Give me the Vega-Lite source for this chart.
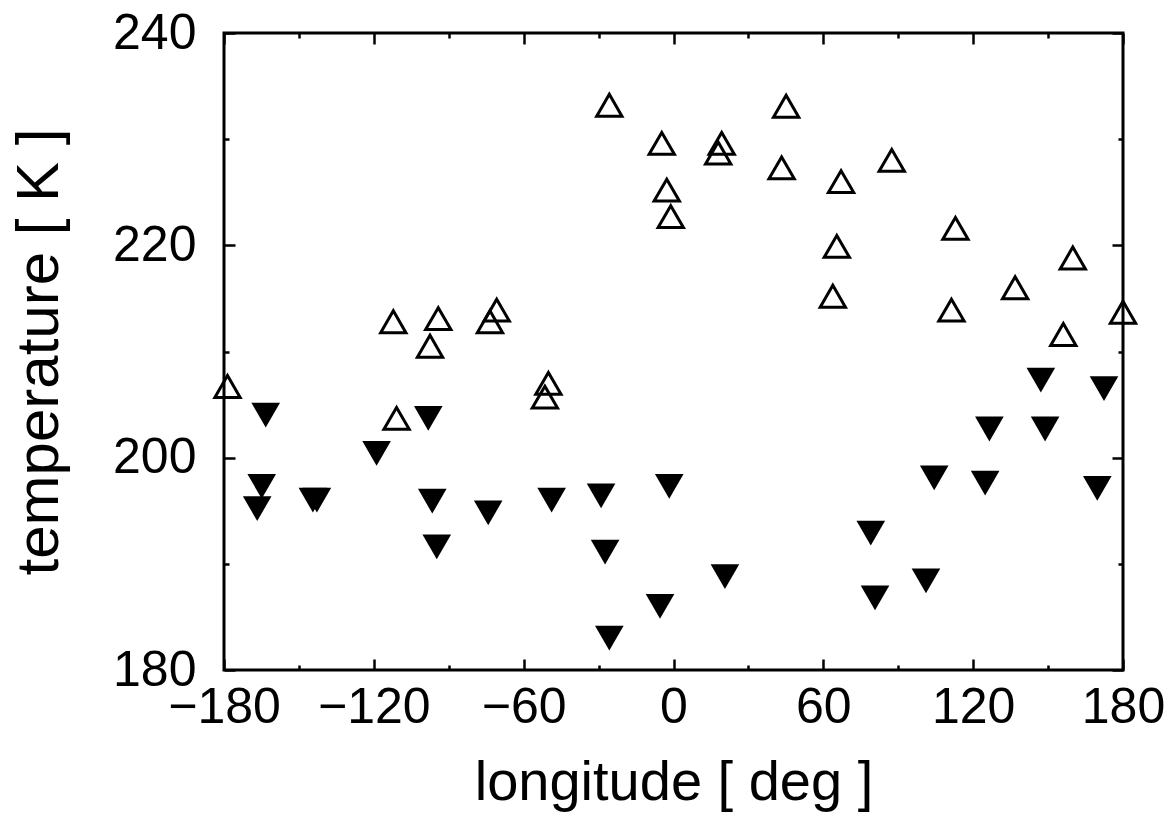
{
  "$schema": "https://vega.github.io/schema/vega-lite/v6.json",
  "autosize": "none",
  "width": 899,
  "height": 637,
  "padding": {"left": 224, "top": 33, "right": 53, "bottom": 146},
  "background": "white",
  "config": {
    "view": {"stroke": "black", "strokeWidth": 3},
    "axis": {
      "domain": false,
      "grid": false,
      "tickColor": "black",
      "tickWidth": 2.5,
      "labelFont": "Liberation Sans",
      "labelFontSize": 50,
      "labelColor": "black",
      "titleFont": "Liberation Sans",
      "titleFontWeight": "normal",
      "titleColor": "black"
    }
  },
  "data": {
    "values": [
      {"lon": -178.6, "temp": 206.7, "series": "open"},
      {"lon": -112.2, "temp": 212.8, "series": "open"},
      {"lon": -110.9, "temp": 203.7, "series": "open"},
      {"lon": -97.5, "temp": 210.5, "series": "open"},
      {"lon": -94.2, "temp": 213.1, "series": "open"},
      {"lon": -73.5, "temp": 212.8, "series": "open"},
      {"lon": -70.8, "temp": 213.9, "series": "open"},
      {"lon": -51.5, "temp": 205.7, "series": "open"},
      {"lon": -50.1, "temp": 207.0, "series": "open"},
      {"lon": -25.7, "temp": 233.2, "series": "open"},
      {"lon": -4.7, "temp": 229.6, "series": "open"},
      {"lon": -2.7, "temp": 225.2, "series": "open"},
      {"lon": -1.1, "temp": 222.7, "series": "open"},
      {"lon": 17.9, "temp": 228.7, "series": "open"},
      {"lon": 19.3, "temp": 229.6, "series": "open"},
      {"lon": 43.3, "temp": 227.3, "series": "open"},
      {"lon": 45.1, "temp": 233.1, "series": "open"},
      {"lon": 63.8, "temp": 215.2, "series": "open"},
      {"lon": 65.4, "temp": 219.9, "series": "open"},
      {"lon": 67.1, "temp": 226.0, "series": "open"},
      {"lon": 87.4, "temp": 228.0, "series": "open"},
      {"lon": 111.3, "temp": 213.9, "series": "open"},
      {"lon": 112.9, "temp": 221.6, "series": "open"},
      {"lon": 136.8, "temp": 216.0, "series": "open"},
      {"lon": 156.1, "temp": 211.6, "series": "open"},
      {"lon": 159.9, "temp": 218.8, "series": "open"},
      {"lon": 180.0, "temp": 213.7, "series": "open"},
      {"lon": -163.3, "temp": 204.0, "series": "filled"},
      {"lon": -164.9, "temp": 197.3, "series": "filled"},
      {"lon": -166.7, "temp": 195.2, "series": "filled"},
      {"lon": -144.4, "temp": 196.0, "series": "filled"},
      {"lon": -142.8, "temp": 196.0, "series": "filled"},
      {"lon": -118.9, "temp": 200.4, "series": "filled"},
      {"lon": -98.2, "temp": 203.7, "series": "filled"},
      {"lon": -96.6, "temp": 195.9, "series": "filled"},
      {"lon": -94.8, "temp": 191.6, "series": "filled"},
      {"lon": -74.2, "temp": 194.8, "series": "filled"},
      {"lon": -48.8, "temp": 196.0, "series": "filled"},
      {"lon": -29.0, "temp": 196.4, "series": "filled"},
      {"lon": -27.4, "temp": 191.1, "series": "filled"},
      {"lon": -25.7, "temp": 183.0, "series": "filled"},
      {"lon": -5.4, "temp": 186.0, "series": "filled"},
      {"lon": -1.7, "temp": 197.3, "series": "filled"},
      {"lon": 20.6, "temp": 188.8, "series": "filled"},
      {"lon": 79.0, "temp": 192.9, "series": "filled"},
      {"lon": 80.7, "temp": 186.8, "series": "filled"},
      {"lon": 101.1, "temp": 188.4, "series": "filled"},
      {"lon": 104.4, "temp": 198.1, "series": "filled"},
      {"lon": 124.8, "temp": 197.6, "series": "filled"},
      {"lon": 126.5, "temp": 202.7, "series": "filled"},
      {"lon": 148.8, "temp": 202.7, "series": "filled"},
      {"lon": 147.1, "temp": 207.3, "series": "filled"},
      {"lon": 172.4, "temp": 206.5, "series": "filled"},
      {"lon": 169.7, "temp": 197.1, "series": "filled"}
    ]
  },
  "layer": [
    {
      "transform": [{"filter": "datum.series === 'open'"}],
      "mark": {"type": "point", "shape": "triangle-up", "filled": false, "stroke": "black", "strokeWidth": 3, "size": 640, "opacity": 1},
      "encoding": {
        "x": {
          "field": "lon", "type": "quantitative",
          "scale": {"domain": [-180, 180], "nice": false, "zero": false},
          "axis": {
            "orient": "bottom",
            "values": [-180, -150, -120, -90, -60, -30, 0, 30, 60, 90, 120, 150, 180],
            "tickSize": {"condition": {"test": "datum.value % 60 !== 0", "value": -5}, "value": -11},
            "labelExpr": "datum.value % 60 === 0 ? datum.label : ''",
            "labelPadding": 23,
            "labelFlush": false,
            "labelOverlap": false,
            "title": "longitude [ deg ]",
            "titleFontSize": 56,
            "titlePadding": 17
          }
        },
        "y": {
          "field": "temp", "type": "quantitative",
          "scale": {"domain": [180, 240], "nice": false, "zero": false},
          "axis": {
            "orient": "left",
            "values": [180, 190, 200, 210, 220, 230, 240],
            "tickSize": {"condition": {"test": "datum.value % 20 !== 0", "value": -5}, "value": -11},
            "labelExpr": "datum.value % 20 === 0 ? datum.label : ''",
            "labelPadding": 39,
            "labelFlush": false,
            "labelOverlap": false,
            "title": "temperature [ K ]",
            "titleFontSize": 60,
            "titlePadding": 42
          }
        }
      }
    },
    {
      "transform": [{"filter": "datum.series === 'filled'"}],
      "mark": {"type": "point", "shape": "triangle-down", "filled": true, "color": "black", "size": 820, "opacity": 1},
      "encoding": {
        "x": {
          "field": "lon", "type": "quantitative",
          "scale": {"domain": [-180, 180], "nice": false, "zero": false},
          "axis": {
            "orient": "top",
            "values": [-180, -150, -120, -90, -60, -30, 0, 30, 60, 90, 120, 150, 180],
            "tickSize": {"condition": {"test": "datum.value % 60 !== 0", "value": -5}, "value": -11},
            "labels": false,
            "title": null
          }
        },
        "y": {
          "field": "temp", "type": "quantitative",
          "scale": {"domain": [180, 240], "nice": false, "zero": false},
          "axis": {
            "orient": "right",
            "values": [180, 190, 200, 210, 220, 230, 240],
            "tickSize": {"condition": {"test": "datum.value % 20 !== 0", "value": -5}, "value": -11},
            "labels": false,
            "title": null
          }
        }
      }
    }
  ],
  "resolve": {"axis": {"x": "independent", "y": "independent"}}
}
